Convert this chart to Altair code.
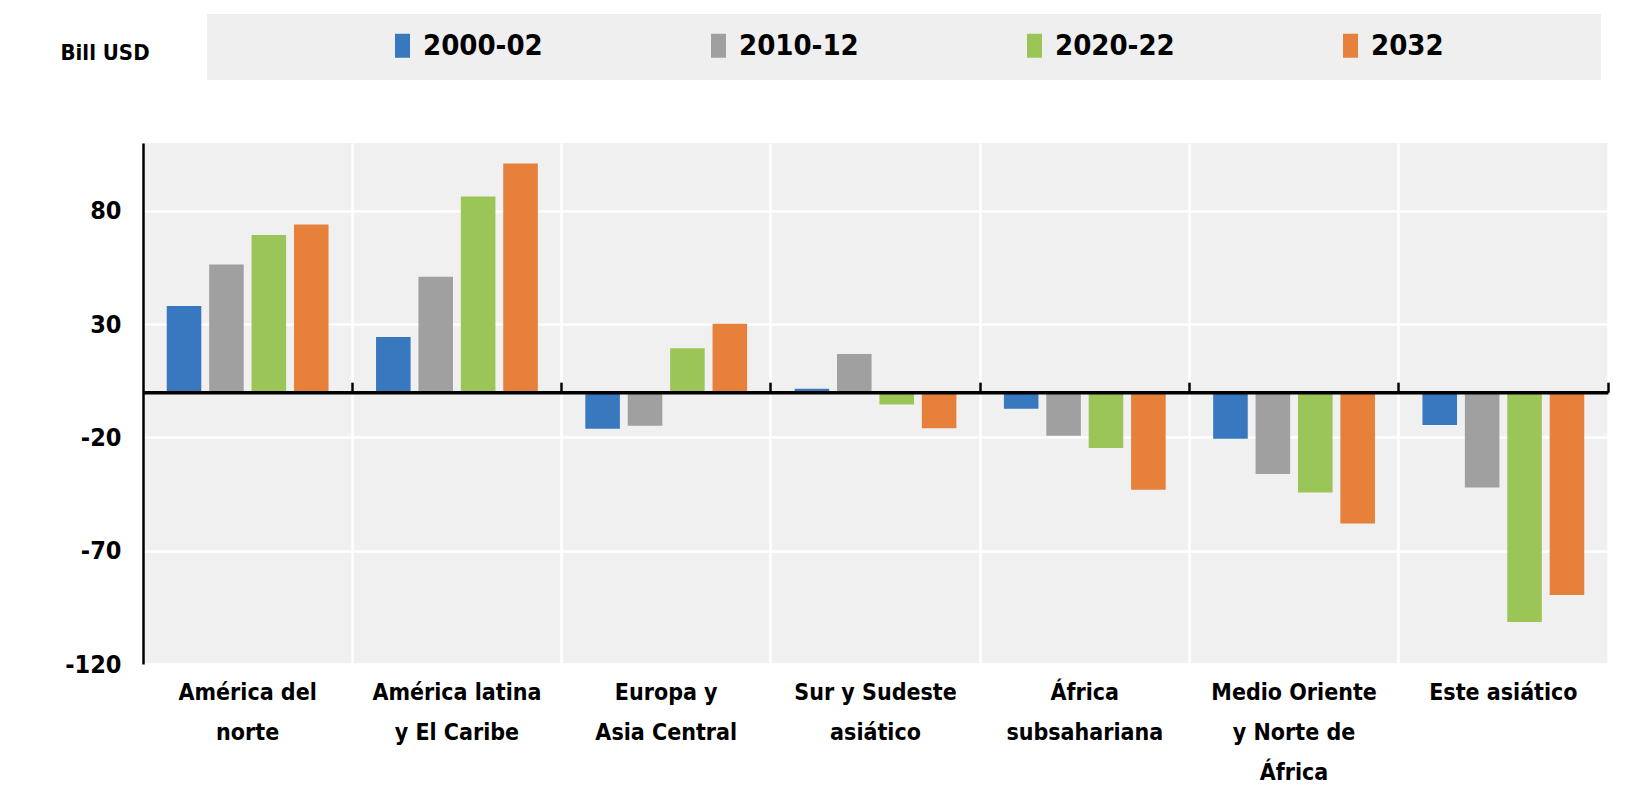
import altair as alt
import pandas as pd

# ---- data ----
region_labels = [
    "América del\nnorte",
    "América latina\ny El Caribe",
    "Europa y\nAsia Central",
    "Sur y Sudeste\nasiático",
    "África\nsubsahariana",
    "Medio Oriente\ny Norte de\nÁfrica",
    "Este asiático",
]
periods = ["2000-02", "2010-12", "2020-22", "2032"]
v2000_02 = [38.0, 24.4, -16.2, 1.5, -7.3, -20.6, -14.5]
v2010_12 = [56.4, 50.9, -14.8, 16.8, -19.2, -36.1, -42.1]
v2020_22 = [69.4, 86.4, 19.4, -5.4, -24.7, -44.3, -101.5]
v2032 = [74.0, 101.0, 30.2, -15.9, -43.1, -58.0, -89.5]
y_ticks = [-120, -70, -20, 30, 80]
y_domain = [-120, 110]
colors = ["#3778be", "#a0a0a0", "#9bc657", "#e6803a"]
unit_label = "Bill USD"

rows = []
for i, r in enumerate(region_labels):
    for p, vals in zip(periods, [v2000_02, v2010_12, v2020_22, v2032]):
        rows.append({"region": r, "period": p, "value": vals[i]})
df = pd.DataFrame(rows)

FONT = "'DejaVu Sans Condensed', 'Liberation Sans Narrow', 'Roboto', sans-serif"
W, H = 1465, 521
zero_px = (y_domain[1] - 0) / (y_domain[1] - y_domain[0]) * H

x_scale = alt.Scale(paddingInner=0, paddingOuter=0)

bars = alt.Chart(df).mark_bar().encode(
    x=alt.X(
        "region:N",
        sort=region_labels,
        scale=x_scale,
        axis=alt.Axis(
            title=None, orient="bottom", labelAngle=0,
            labelExpr="split(datum.label, '\\n')",
            labelFont=FONT, labelFontSize=23, labelFontWeight="bold",
            labelColor="black", labelLineHeight=40, labelPadding=17,
            labelBaseline="top", labelLimit=400, labelBound=False,
            domain=False, ticks=False, grid=False,
        ),
    ),
    xOffset=alt.XOffset("period:N", sort=periods,
                        scale=alt.Scale(paddingInner=0.185, paddingOuter=0.56)),
    y=alt.Y(
        "value:Q",
        scale=alt.Scale(domain=y_domain, nice=False, zero=False),
        axis=alt.Axis(
            values=y_ticks, labelExpr="'' + datum.value",
            title=unit_label, titleAngle=0, titleAlign="left",
            titleBaseline="middle", titleX=-83, titleY=-91,
            titleFont=FONT, titleFontSize=22, titleFontWeight="bold", titleColor="black",
            labelFont=FONT, labelFontSize=25, labelFontWeight="bold", labelColor="black",
            labelPadding=22, ticks=False, domain=True, domainColor="black", domainWidth=2.5,
            grid=True, gridColor="white", gridWidth=2.5,
        ),
    ),
    color=alt.Color(
        "period:N",
        scale=alt.Scale(domain=periods, range=colors),
        legend=alt.Legend(
            title=None, orient="none", legendX=245, legendY=-112,
            direction="horizontal", columns=4, gridAlign="all",
            columnPadding=161, padding=0,
            symbolType="M-0.625,-1H0.625V1H-0.625Z", symbolSize=576,
            symbolStrokeWidth=0, symbolOpacity=1,
            labelFont=FONT, labelFontSize=29, labelFontWeight="bold",
            labelColor="black", labelOffset=6, labelLimit=400,
        ),
    ),
)

# zero line with boundary ticks and vertical grid lines (axis placed at y = 0)
zero_axis = alt.Chart(df).mark_point(opacity=0).encode(
    x=alt.X(
        "region:N", sort=region_labels, scale=x_scale,
        axis=alt.Axis(
            title=None, orient="top", offset=-zero_px, labels=False,
            domain=True, domainColor="black", domainWidth=3.5,
            ticks=True, tickColor="black", tickWidth=2.5, tickSize=10,
            bandPosition=1,
            grid=True, gridColor="white", gridWidth=2.5, zindex=1,
        ),
    ),
    y=alt.Y("value:Q"),
)

band = alt.Chart(pd.DataFrame({"k": [0]})).mark_rect(color="#efefef").encode(
    x=alt.value(64), x2=alt.value(1458), y=alt.value(-129), y2=alt.value(-63)
)

chart = (
    alt.layer(band, bars, zero_axis)
    .resolve_axis(x="independent")
    .properties(width=W, height=H, padding={"left": 52, "top": 6, "right": 5, "bottom": 0},
                background="white")
    .configure_view(stroke=None, fill="#f0f0f0")
)

chart.save("out.html", embed_options={"renderer": "svg", "actions": False})
